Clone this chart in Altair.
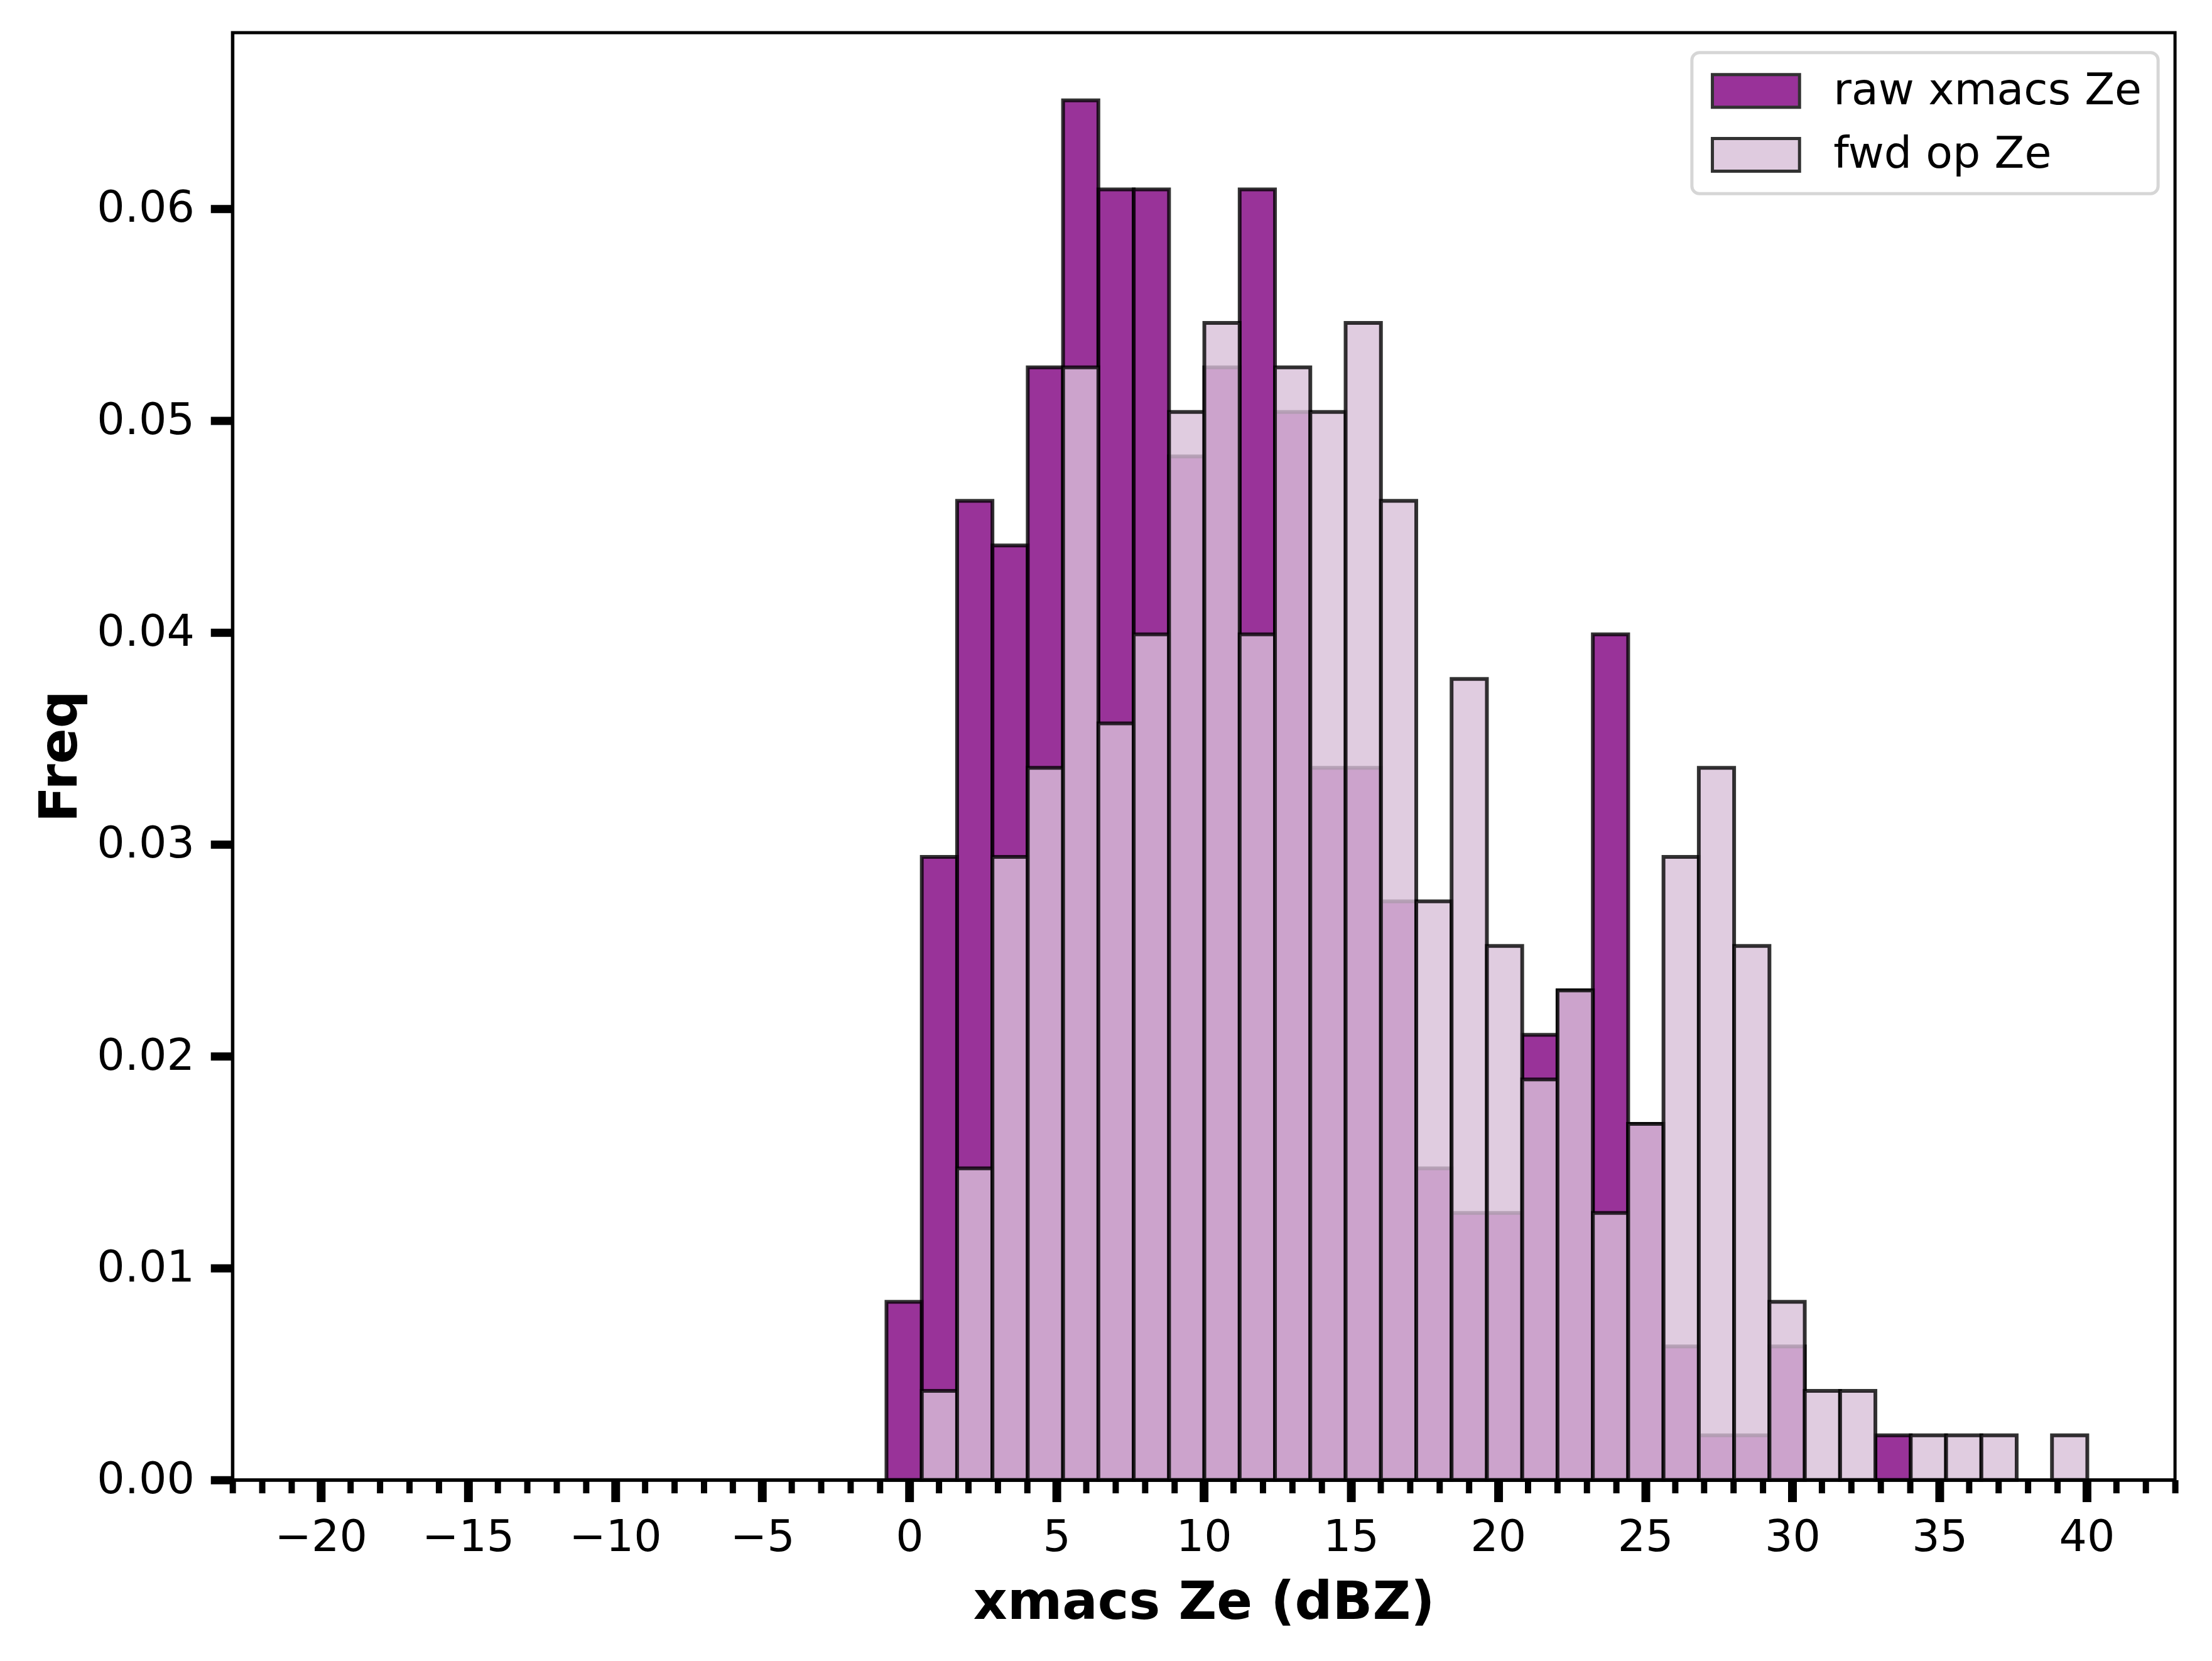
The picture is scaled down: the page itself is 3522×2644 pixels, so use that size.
import altair as alt
import pandas as pd

SERIES = ["raw xmacs Ze", "fwd op Ze"]
COLORS = ["#800080", "#D8BFD8"]

BIN_EDGES = [-0.78, 0.42, 1.62, 2.82, 4.02, 5.22, 6.42, 7.62, 8.82, 10.02,
             11.22, 12.42, 13.62, 14.82, 16.02, 17.22, 18.42, 19.62, 20.82,
             22.02, 23.22, 24.42, 25.62, 26.82, 28.02, 29.22, 30.42, 31.62,
             32.82, 34.02, 35.22, 36.42, 37.62, 38.82, 40.02]

RAW = [0.0084, 0.0294, 0.0462, 0.0441, 0.0525, 0.0651, 0.0609, 0.0609,
       0.0483, 0.0525, 0.0609, 0.0504, 0.0336, 0.0336, 0.0273, 0.0147,
       0.0126, 0.0126, 0.0210, 0.0231, 0.0399, 0.0168, 0.0063, 0.0021,
       0.0021, 0.0063, 0.0, 0.0, 0.0021, 0.0, 0.0, 0.0, 0.0, 0.0]

FWD = [0.0, 0.0042, 0.0147, 0.0294, 0.0336, 0.0525, 0.0357, 0.0399,
       0.0504, 0.0546, 0.0399, 0.0525, 0.0504, 0.0546, 0.0462, 0.0273,
       0.0378, 0.0252, 0.0189, 0.0231, 0.0126, 0.0168, 0.0294, 0.0336,
       0.0252, 0.0084, 0.0042, 0.0042, 0.0, 0.0021, 0.0021, 0.0021, 0.0,
       0.0021]

X_MAJOR = [-20, -15, -10, -5, 0, 5, 10, 15, 20, 25, 30, 35, 40]
X_MINOR = [-23, -22, -21, -19, -18, -17, -16, -14, -13, -12, -11, -9, -8,
           -7, -6, -4, -3, -2, -1, 1, 2, 3, 4, 6, 7, 8, 9, 11, 12, 13, 14,
           16, 17, 18, 19, 21, 22, 23, 24, 26, 27, 28, 29, 31, 32, 33, 34,
           36, 37, 38, 39, 41, 42, 43]
Y_TICKS = [0.0, 0.01, 0.02, 0.03, 0.04, 0.05, 0.06]

rows = []
for name, vals in zip(SERIES, [RAW, FWD]):
    for i, v in enumerate(vals):
        if v > 0:
            rows.append({"series": name, "x0": BIN_EDGES[i],
                         "x1": BIN_EDGES[i + 1], "freq": v, "base": 0.0})
df = pd.DataFrame(rows)

FONT = "DejaVu Sans"

x_scale = alt.Scale(domain=[-23, 43], nice=False, zero=False)
y_scale = alt.Scale(domain=[0, 0.0683], nice=False, zero=True)

major_axis = alt.Axis(
    values=X_MAJOR, format="d", orient="bottom", grid=False,
    tickSize=35, tickWidth=14, tickColor="black",
    domain=True, domainColor="black", domainWidth=5,
    labelFont=FONT, labelFontSize=70, labelColor="black", labelPadding=23,
    labelFlush=False, labelOverlap=False,
    title="xmacs Ze (dBZ)", titleFont=FONT, titleFontSize=84,
    titleFontWeight="bold", titleColor="black",
    titleBaseline="alphabetic", titleY=221, zindex=1,
)
minor_axis = alt.Axis(
    values=X_MINOR, orient="bottom", grid=False, labels=False,
    tickSize=21, tickWidth=10, tickColor="black", domain=False,
    title=None, zindex=1,
)
y_axis = alt.Axis(
    values=Y_TICKS, format=".2f", grid=False,
    tickSize=35, tickWidth=13, tickColor="black",
    domain=True, domainColor="black", domainWidth=5,
    labelFont=FONT, labelFontSize=70, labelColor="black", labelPadding=26,
    title="Freq", titleFont=FONT, titleFontSize=84, titleFontWeight="bold",
    titleColor="black", titleBaseline="alphabetic", titleX=-249,
    titleY=1154.5, zindex=1,
)

legend = alt.Legend(
    title=None, orient="none", legendX=2329, legendY=32,
    symbolType="M-1.087,-1L4.26,-1L4.26,1L-1.087,1Z",
    symbolSize=2704, symbolStrokeColor="black", symbolStrokeWidth=5,
    symbolOpacity=0.8,
    labelFont=FONT, labelFontSize=70, labelColor="black", labelOffset=130,
    labelLimit=1000, rowPadding=30, padding=26,
    strokeColor="#d6d6d6", cornerRadius=12, fillColor="white",
)

color = alt.Color("series:N", scale=alt.Scale(domain=SERIES, range=COLORS),
                  legend=legend)

bar_kw = dict(fillOpacity=0.8, stroke="black", strokeOpacity=0.8,
              strokeWidth=6)


def layer_for(name, axis):
    return alt.Chart(df).transform_filter(
        alt.datum.series == name
    ).mark_rect(**bar_kw).encode(
        x=alt.X("x0:Q", scale=x_scale, axis=axis),
        x2="x1:Q",
        y=alt.Y("freq:Q", scale=y_scale, axis=y_axis),
        y2="base:Q",
        color=color,
    )


raw = layer_for(SERIES[0], minor_axis)
fwd = layer_for(SERIES[1], major_axis)

chart = alt.layer(raw, fwd).resolve_axis(x="independent").properties(
    width=3100, height=2309,
    autosize=alt.AutoSizeParams(type="none"),
    padding={"left": 363, "top": 41, "right": 51, "bottom": 286},
    background="white",
).configure_view(
    stroke="black", strokeWidth=5
).configure_legend(
    strokeWidth=5
)

chart.save("out.html", embed_options={"renderer": "svg", "actions": False})
